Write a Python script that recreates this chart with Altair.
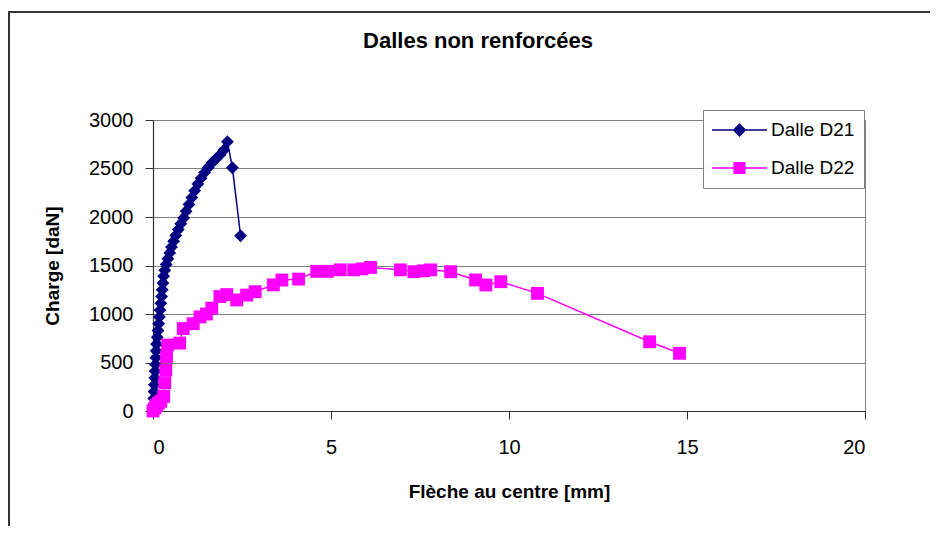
import altair as alt
import pandas as pd

# ---- data ----
d21_x = [0.00, 0.01, 0.02, 0.03, 0.04, 0.05, 0.06, 0.07, 0.08, 0.09, 0.10, 0.12, 0.14, 0.16,
         0.18, 0.20, 0.22, 0.24, 0.26, 0.28, 0.30, 0.33, 0.37, 0.42, 0.47, 0.52, 0.58, 0.64,
         0.71, 0.78, 0.86, 0.93, 1.01, 1.09, 1.17, 1.26, 1.35, 1.45, 1.55, 1.66, 1.77, 1.88,
         1.99, 2.09, 2.23, 2.46]
d21_y = [0, 60, 130, 200, 270, 340, 410, 480, 550, 620, 690, 760, 830, 900,
         970, 1040, 1110, 1180, 1250, 1320, 1390, 1450, 1510, 1570, 1630, 1690, 1750, 1810,
         1870, 1930, 1990, 2060, 2130, 2200, 2270, 2340, 2400, 2460, 2510, 2560, 2600, 2640,
         2690, 2776, 2508, 1807]

d22_x = [0.00, 0.05, 0.10, 0.15, 0.22, 0.30, 0.33, 0.36, 0.38, 0.41, 0.75, 0.85, 1.13, 1.32,
         1.50, 1.65, 1.88, 2.07, 2.35, 2.63, 2.87, 3.38, 3.62, 4.09, 4.60, 4.90, 5.26, 5.64,
         5.87, 6.11, 6.95, 7.33, 7.60, 7.80, 8.36, 9.06, 9.35, 9.77, 10.80, 13.95, 14.79]
d22_y = [0, 30, 60, 80, 100, 150, 290, 420, 560, 680, 700, 850, 900, 970,
         1000, 1060, 1180, 1200, 1145, 1195, 1230, 1300, 1350, 1360, 1440, 1440, 1455, 1455,
         1465, 1480, 1455, 1436, 1445, 1455, 1436, 1351, 1299, 1333, 1213, 714, 595]

series_names = ["Dalle D21", "Dalle D22"]
series_colors = ["#000080", "#FF00FF"]
series_markers = ["diamond", "square"]
x_ticks = [0, 5, 10, 15, 20]
y_ticks = [0, 500, 1000, 1500, 2000, 2500, 3000]

rows = []
for i, (x, y) in enumerate(zip(d21_x, d21_y)):
    rows.append({"serie": series_names[0], "x": x, "y": y, "idx": i})
for i, (x, y) in enumerate(zip(d22_x, d22_y)):
    rows.append({"serie": series_names[1], "x": x, "y": y, "idx": i})
df = pd.DataFrame(rows)

FONT = "Arial, Liberation Sans, sans-serif"

color_scale = alt.Scale(domain=series_names, range=series_colors)
# legend symbols: a line with the marker in the middle
legend_paths = [
    "M-1,-0.03H1V0.03H-1Z M0,-0.25L0.25,0L0,0.25L-0.25,0Z",
    "M-1,-0.03H1V0.03H-1Z M-0.22,-0.22H0.22V0.22H-0.22Z",
]
shape_scale = alt.Scale(domain=series_names, range=legend_paths)

x_enc = alt.X("x:Q", scale=alt.Scale(domain=[0, 20], nice=False),
              axis=alt.Axis(values=x_ticks, grid=False, title="Flèche au centre [mm]",
                            titleY=80, titleBaseline="middle", labelPadding=18))
y_enc = alt.Y("y:Q", scale=alt.Scale(domain=[0, 3000], nice=False),
              axis=alt.Axis(values=y_ticks, grid=True, format="d", title="Charge [daN]",
                            titleX=-101, titleY=145.5, titleBaseline="middle",
                            titleAngle=270, labelPadding=12))

base = alt.Chart(df)

layers = []
for name, col, shape in zip(series_names, series_colors, series_markers):
    sub = base.transform_filter(alt.datum.serie == name)
    line = sub.mark_line(strokeWidth=1.5, color=col).encode(
        x=x_enc, y=y_enc, order="idx:Q")
    pts = sub.mark_point(shape=shape, filled=True, size=165, opacity=1, color=col).encode(
        x=x_enc, y=y_enc)
    layers += [line, pts]

leg = alt.Legend(title=None, orient="none", legendX=550, legendY=-10,
                 padding=9, clipHeight=22, rowPadding=16,
                 labelOffset=4, labelFontSize=19, labelFont=FONT,
                 labelColor="#000000", symbolSize=3025,
                 symbolStrokeWidth=0, fillColor="#FFFFFF",
                 strokeColor="#808080", cornerRadius=0)

legend_layer = base.transform_filter("false").mark_point(filled=True, opacity=1).encode(
    x=x_enc, y=y_enc,
    color=alt.Color("serie:N", scale=color_scale, legend=leg),
    shape=alt.Shape("serie:N", scale=shape_scale, legend=leg),
)

frame = alt.Chart(alt.Data(values=[{"f": 1}])).mark_rect(
    fill=None, stroke="#333333", strokeWidth=2, clip=False
).encode(x=alt.value(-144), x2=alt.value(900), y=alt.value(-108), y2=alt.value(600))

chart = alt.layer(frame, *layers, legend_layer).properties(
    width=712, height=291,
    background="#FFFFFF",
    autosize=alt.AutoSizeParams(type="none"),
    padding={"left": 145, "top": 112, "right": 65, "bottom": 115},
    title=alt.TitleParams("Dalles non renforcées", font=FONT, fontSize=22, fontWeight="bold",
                          color="#000000", anchor="middle", frame="group", dx=-31,
                          offset=-59, baseline="alphabetic"),
).configure_view(stroke="#808080", strokeWidth=1).configure_axis(
    labelFont=FONT, labelFontSize=20, labelColor="#000000",
    titleFont=FONT, titleFontSize=19, titleFontWeight="bold", titleColor="#000000",
    domainColor="#333333", domainWidth=1.2, tickColor="#333333", tickSize=8,
    gridColor="#808080", gridWidth=1,
)

chart.save("out.html", embed_options={"renderer": "svg", "actions": False})
